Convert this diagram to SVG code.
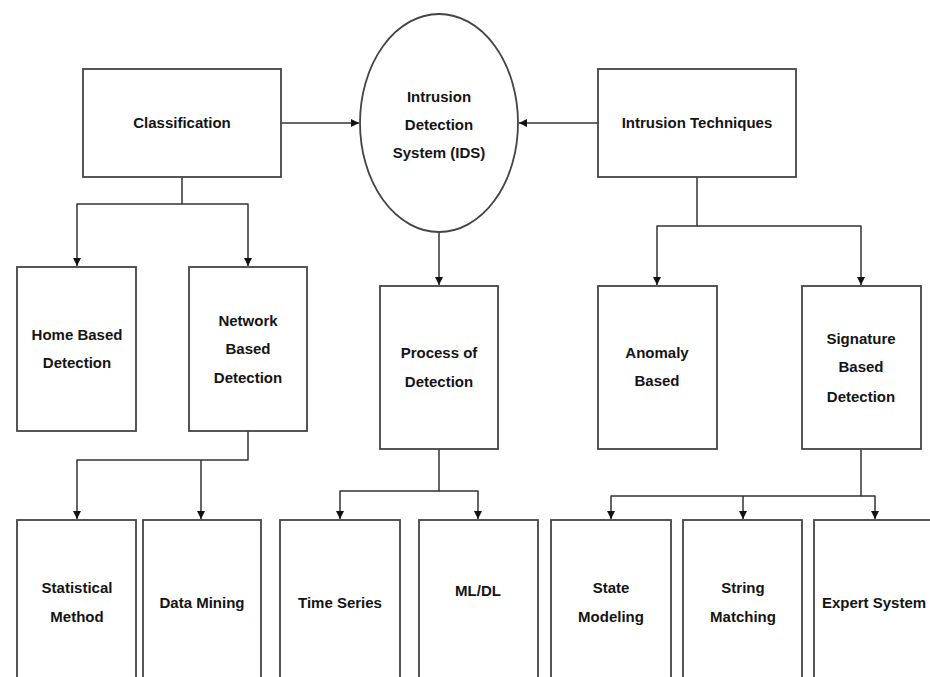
<svg xmlns="http://www.w3.org/2000/svg" width="930" height="677" viewBox="0 0 930 677">
<style>
.box{fill:#fff;stroke:#444;stroke-width:1.8}
.t{font-family:"Liberation Sans",Arial,sans-serif;font-weight:bold;font-size:15px;fill:#141414;text-anchor:middle}
.c{fill:none;stroke:#333;stroke-width:1.5;stroke-linejoin:round}
</style>
<defs>
<marker id="ah" viewBox="0 0 10 10" refX="10" refY="5" markerWidth="8" markerHeight="8" markerUnits="userSpaceOnUse" orient="auto">
<path d="M0,0 L10,5 L0,10 z" fill="#111"/>
</marker>
</defs>
<rect width="930" height="677" fill="#fff"/>
<g id="connectors">
<path class="c" d="M281,123 H359" marker-end="url(#ah)"/>
<path class="c" d="M598,123 H519" marker-end="url(#ah)"/>
<path class="c" d="M182,177 V204 H77 V266"  marker-end="url(#ah)"/>
<path class="c" d="M182,204 H248 V266" marker-end="url(#ah)"/>
<path class="c" d="M439,232 V285" marker-end="url(#ah)"/>
<path class="c" d="M697,177 V226 H657 V285" marker-end="url(#ah)"/>
<path class="c" d="M697,226 H861 V285" marker-end="url(#ah)"/>
<path class="c" d="M248,431 V460 H77 V519" marker-end="url(#ah)"/>
<path class="c" d="M201,460 V519" marker-end="url(#ah)"/>
<path class="c" d="M439,449 V491 H340 V519" marker-end="url(#ah)"/>
<path class="c" d="M439,491 H478 V519" marker-end="url(#ah)"/>
<path class="c" d="M861,449 V496 H611 V519" marker-end="url(#ah)"/>
<path class="c" d="M743,496 V519" marker-end="url(#ah)"/>
<path class="c" d="M861,496 H875 V519" marker-end="url(#ah)"/>
</g>
<g id="classification"><rect class="box" x="83" y="69" width="198" height="108"/><text class="t" x="182" y="128">Classification</text></g>
<g id="ids"><ellipse class="box" cx="439" cy="123" rx="79" ry="109"/><text class="t" x="439" y="102">Intrusion</text><text class="t" x="439" y="130">Detection</text><text class="t" x="439" y="158">System (IDS)</text></g>
<g id="intrusion-techniques"><rect class="box" x="598" y="69" width="198" height="108"/><text class="t" x="697" y="128">Intrusion Techniques</text></g>
<g id="home-based"><rect class="box" x="17" y="267" width="119" height="164"/><text class="t" x="77" y="340">Home Based</text><text class="t" x="77" y="368">Detection</text></g>
<g id="network-based"><rect class="box" x="189" y="267" width="118" height="164"/><text class="t" x="248" y="326">Network</text><text class="t" x="248" y="354">Based</text><text class="t" x="248" y="383">Detection</text></g>
<g id="process"><rect class="box" x="380" y="286" width="118" height="163"/><text class="t" x="439" y="358">Process of</text><text class="t" x="439" y="387">Detection</text></g>
<g id="anomaly"><rect class="box" x="598" y="286" width="119" height="163"/><text class="t" x="657" y="358">Anomaly</text><text class="t" x="657" y="386">Based</text></g>
<g id="signature"><rect class="box" x="802" y="286" width="119" height="163"/><text class="t" x="861" y="344">Signature</text><text class="t" x="861" y="372">Based</text><text class="t" x="861" y="402">Detection</text></g>
<g id="statistical"><rect class="box" x="17" y="520" width="119" height="170"/><text class="t" x="77" y="593">Statistical</text><text class="t" x="77" y="622">Method</text></g>
<g id="data-mining"><rect class="box" x="143" y="520" width="118" height="170"/><text class="t" x="202" y="608">Data Mining</text></g>
<g id="time-series"><rect class="box" x="280" y="520" width="120" height="170"/><text class="t" x="340" y="608">Time Series</text></g>
<g id="ml-dl"><rect class="box" x="419" y="520" width="119" height="170"/><text class="t" x="478" y="596">ML/DL</text></g>
<g id="state-modeling"><rect class="box" x="551" y="520" width="120" height="170"/><text class="t" x="611" y="593">State</text><text class="t" x="611" y="622">Modeling</text></g>
<g id="string-matching"><rect class="box" x="683" y="520" width="119" height="170"/><text class="t" x="743" y="593">String</text><text class="t" x="743" y="622">Matching</text></g>
<g id="expert-system"><rect class="box" x="814" y="520" width="122" height="170"/><text class="t" x="874" y="608">Expert System</text></g>
</svg>
